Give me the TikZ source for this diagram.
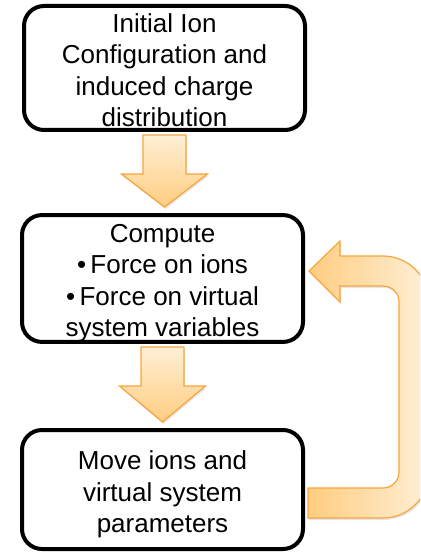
\documentclass[tikz,border=0pt]{standalone}
\usepackage{fontspec}
\setmainfont{Liberation Sans}
\usetikzlibrary{calc,shadows}

\definecolor{flowpale}{HTML}{FFEFD6}
\definecolor{flowdeep}{HTML}{FFCD80}
\definecolor{flowedge}{HTML}{F7A53D}

% raise the first line so the text block sits a little lower in its box
\newcommand{\padtop}[1]{\rule{0pt}{#1}}

\tikzset{
    stepbox/.style={draw, line width=4pt, rounded corners=20pt, minimum width=281pt,
        align=center, inner sep=0pt, font=\fontsize{26}{31.5}\selectfont},
    blockdown/.style={draw=flowedge, line width=1.2pt, top color=flowpale, bottom color=flowdeep,
        drop shadow={opacity=0.2, shadow xshift=1pt, shadow yshift=-2pt}},
    blockloop/.style={draw=flowedge, line width=1.2pt, left color=flowdeep, right color=flowpale,
        drop shadow={opacity=0.2, shadow xshift=1pt, shadow yshift=-2pt}}
}

\begin{document}
\begin{tikzpicture}[x=1pt, y=-1pt]
        \useasboundingbox (0,0) rectangle (420,553);
        \clip (0,0) rectangle (420,553);

        \node[stepbox, minimum height=124pt] at (164.5, 68)(init){\padtop{23pt}Initial Ion\\Configuration and\\induced charge\\distribution};
        \node[stepbox, minimum height=125pt] at (162.5, 278.5)(compute){\padtop{27pt}Compute\\\textbullet\,Force on ions\\\textbullet\,Force on virtual\\system variables};
        \node[stepbox, minimum height=119pt] at (162.5, 489.5)(move){\padtop{29pt}Move ions and\\virtual system\\parameters};

        % straight block arrows
        \foreach \from/\to in {init/compute, compute/move}
            \path[blockdown] ($(\from.south)+(-21.5,3)$) -- ++(0,39) -- ++(-21.5,0)
                -- ($(\from.south |- \to.north)+(0,-6)$) -- ($(\from.south)+(43,42)$)
                -- ++(-21.5,0) -- ++(0,-39) -- cycle;

        % loop back
        \path[blockloop] ($(move.east)+(3,-1.5)$) -- ++(75,0)
            arc[start angle=90, end angle=0, radius=16] -- ++(0,-170)
            arc[start angle=0, end angle=-90, radius=16] -- ++(-43,0) -- ++(0,16)
            -- ($(compute.east)+(4,-7.5)$) -- ++(31,-30) -- ++(0,15) -- ++(43,0)
            arc[start angle=-90, end angle=0, radius=46] -- ++(0,170)
            arc[start angle=0, end angle=90, radius=46] -- ++(-75,0) -- cycle;
    \end{tikzpicture}
\end{document}
